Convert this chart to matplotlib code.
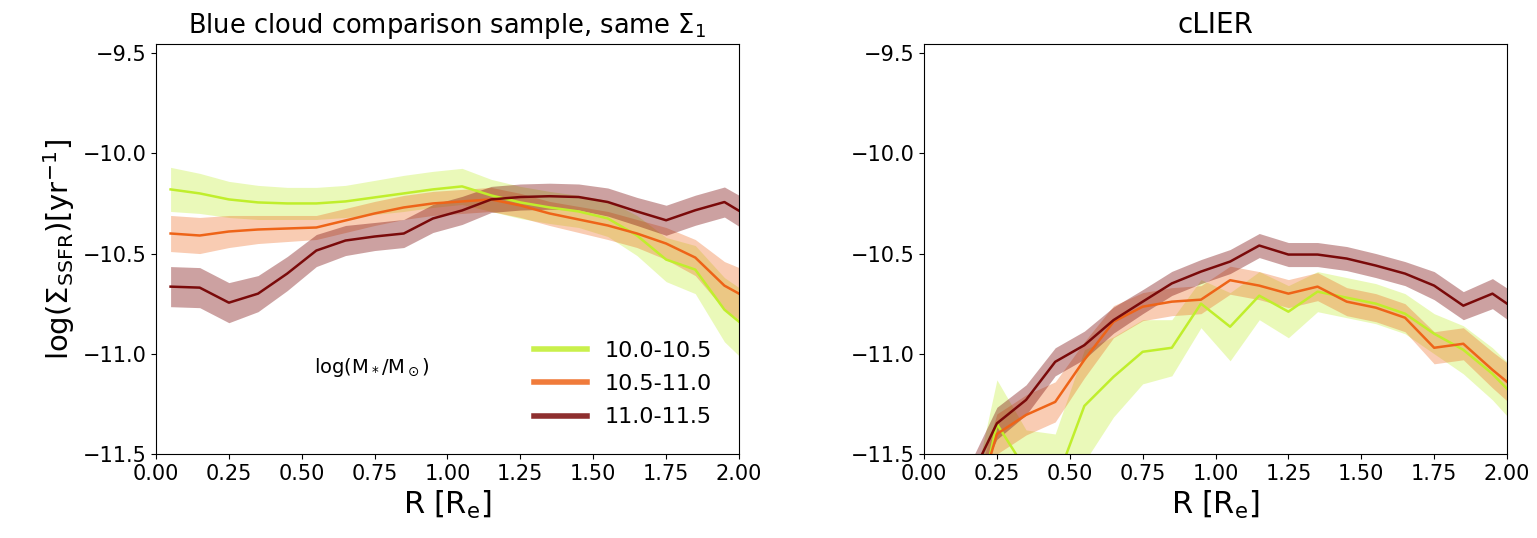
import numpy as np
import matplotlib
matplotlib.use("Agg")
import matplotlib.pyplot as plt

plt.rcParams['font.family'] = ['DejaVu Sans']
plt.rcParams['mathtext.default'] = 'regular'

# radial bins (R / Re)
radius = [0.05, 0.15, 0.25, 0.35, 0.45, 0.55, 0.65, 0.75, 0.85, 0.95, 1.05,
          1.15, 1.25, 1.35, 1.45, 1.55, 1.65, 1.75, 1.85, 1.95, 2.05]

mass_bins = ['10.0-10.5', '10.5-11.0', '11.0-11.5']
colors = ['#c0ee2c', '#ee6418', '#7a0a0a']

# blue cloud comparison sample
bc_low = [-10.18, -10.20, -10.23, -10.245, -10.25, -10.25, -10.24, -10.22, -10.20, -10.18, -10.165,
          -10.21, -10.245, -10.27, -10.29, -10.325, -10.41, -10.53, -10.58, -10.78, -10.90]
bc_low_err = [0.11, 0.10, 0.09, 0.085, 0.08, 0.08, 0.08, 0.085, 0.09, 0.09, 0.09,
              0.08, 0.08, 0.08, 0.08, 0.09, 0.10, 0.11, 0.12, 0.16, 0.18]
bc_mid = [-10.40, -10.41, -10.39, -10.38, -10.375, -10.37, -10.335, -10.30, -10.27, -10.25, -10.24,
          -10.23, -10.26, -10.30, -10.33, -10.36, -10.40, -10.45, -10.52, -10.66, -10.74]
bc_mid_err = [0.09, 0.09, 0.08, 0.07, 0.065, 0.06, 0.06, 0.06, 0.06, 0.06, 0.06,
              0.06, 0.06, 0.06, 0.065, 0.07, 0.07, 0.08, 0.09, 0.12, 0.14]
bc_high = [-10.665, -10.67, -10.745, -10.70, -10.60, -10.485, -10.435, -10.415, -10.40, -10.325, -10.285,
           -10.23, -10.218, -10.214, -10.218, -10.243, -10.29, -10.334, -10.284, -10.243, -10.33]
bc_high_err = [0.10, 0.10, 0.10, 0.09, 0.085, 0.08, 0.075, 0.07, 0.07, 0.07, 0.07,
               0.065, 0.065, 0.065, 0.065, 0.07, 0.07, 0.075, 0.075, 0.075, 0.08]

# cLIER
cl_low = [-12.2, -12.0, -11.35, -11.58, -11.65, -11.26, -11.115, -10.99, -10.97, -10.75, -10.865,
          -10.71, -10.79, -10.69, -10.72, -10.75, -10.80, -10.90, -10.98, -11.10, -11.25]
cl_low_err = [0.2, 0.2, 0.22, 0.2, 0.25, 0.28, 0.2, 0.16, 0.14, 0.12, 0.17,
              0.12, 0.13, 0.10, 0.10, 0.10, 0.10, 0.10, 0.12, 0.13, 0.14]
cl_mid = [-12.1, -11.9, -11.40, -11.305, -11.24, -11.03, -10.84, -10.765, -10.74, -10.73, -10.633,
          -10.66, -10.70, -10.665, -10.74, -10.77, -10.82, -10.97, -10.95, -11.08, -11.20]
cl_mid_err = [0.15, 0.12, 0.10, 0.10, 0.10, 0.09, 0.08, 0.07, 0.07, 0.07, 0.07,
              0.07, 0.07, 0.07, 0.07, 0.07, 0.07, 0.08, 0.08, 0.09, 0.10]
cl_high = [-12.0, -11.65, -11.347, -11.23, -11.04, -10.957, -10.832, -10.74, -10.649, -10.59, -10.54,
           -10.46, -10.505, -10.505, -10.525, -10.56, -10.60, -10.66, -10.76, -10.70, -10.80]
cl_high_err = [0.08, 0.08, 0.08, 0.075, 0.07, 0.07, 0.065, 0.06, 0.06, 0.06, 0.06,
               0.06, 0.06, 0.06, 0.06, 0.06, 0.06, 0.07, 0.07, 0.075, 0.08]

panels = [
    ('Blue cloud comparison sample, same $\\Sigma_1$',
     [(bc_low, bc_low_err), (bc_mid, bc_mid_err), (bc_high, bc_high_err)]),
    ('cLIER',
     [(cl_low, cl_low_err), (cl_mid, cl_mid_err), (cl_high, cl_high_err)]),
]

fig = plt.figure(figsize=(15.37, 5.38), dpi=100)
ax_left = fig.add_axes([0.1015, 0.1561, 0.3793, 0.762])
ax_right = fig.add_axes([0.6012, 0.1561, 0.3793, 0.762])

r = np.array(radius)
for ax, (title, series) in zip([ax_left, ax_right], panels):
    for (vals, errs), col, lab in zip(series, colors, mass_bins):
        v = np.array(vals)
        e = np.array(errs)
        alpha = 0.38 if col == colors[2] else 0.33
        ax.fill_between(r, v - e, v + e, color=col, alpha=alpha, linewidth=0)
        ax.plot(r, v, color=col, lw=1.8, label=lab)
    ax.set_xlim(0, 2.0)
    ax.set_ylim(-11.5, -9.455)
    ax.set_xticks(np.arange(0, 2.01, 0.25))
    ax.set_yticks([-9.5, -10.0, -10.5, -11.0, -11.5])
    ax.tick_params(labelsize=15)
    ax.set_xlabel('R [R$_e$]', fontsize=22)
    ax.set_title(title, fontsize=18.5 if ax is ax_left else 20, pad=8)

ax_left.set_ylabel('log($\\Sigma_{SSFR}$)[yr$^{-1}$]', fontsize=21)

leg = ax_left.legend(loc='lower right', frameon=False, fontsize=16,
                     handlelength=2.4, handletextpad=0.8, labelspacing=0.6,
                     borderaxespad=0.8)
for line in leg.get_lines():
    line.set_linewidth(4)
    line.set_alpha(0.85)

ax_left.text(0.74, -11.07, 'log(M$_*$/M$_\\odot$)', fontsize=14, ha='center', va='center')

fig.savefig('out.png', dpi=100)
